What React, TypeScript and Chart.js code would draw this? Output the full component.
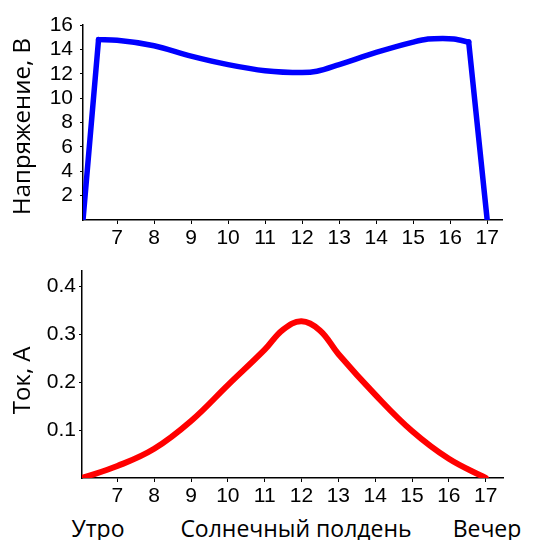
import React, { useEffect, useRef } from "react";
import { Chart, registerables } from "chart.js";

Chart.register(...registerables);

// Top chart: voltage (V) over hours
const voltageHours = [6.08, 6.5, 7, 8, 9, 10, 11, 12, 12.4, 13, 14, 15, 15.4, 15.8, 16.1, 16.5, 17];
const voltageValues = [0, 14.8, 14.75, 14.3, 13.45, 12.75, 12.25, 12.1, 12.2, 12.75, 13.75, 14.6, 14.85, 14.9, 14.85, 14.6, 0];
const voltageTicks = [2, 4, 6, 8, 10, 12, 14, 16];

// Bottom chart: current (A) over hours
const currentHours = [6.04, 7, 8, 9, 10, 11, 11.5, 12, 12.5, 13, 14, 15, 16, 17];
const currentValues = [0.0, 0.025, 0.061, 0.119, 0.194, 0.268, 0.31, 0.327, 0.308, 0.259, 0.174, 0.098, 0.04, 0.0];
const currentTicks = [0.1, 0.2, 0.3, 0.4];

const hourTicks = [7, 8, 9, 10, 11, 12, 13, 14, 15, 16, 17];

const voltageTitle = "Напряжение, В";
const currentTitle = "Ток, А";
const bottomLabels = ["Утро", "Солнечный полдень", "Вечер"];

const tickFont = { family: "'Liberation Sans', Arial, sans-serif", size: 21 };
const titleFontCss = "24px 'Open Sans', sans-serif";

const yTitlePlugin = {
  id: "yTitle",
  afterDraw(chart: any, _args: any, opts: any) {
    const { ctx, chartArea } = chart;
    ctx.save();
    ctx.font = titleFontCss;
    ctx.fillStyle = "#000";
    ctx.textAlign = "center";
    ctx.textBaseline = "middle";
    ctx.translate(opts.x, (chartArea.top + chartArea.bottom) / 2 + opts.dy);
    ctx.rotate(-Math.PI / 2);
    ctx.fillText(opts.text, 0, 0);
    ctx.restore();
  },
};

function makeScales(opts: {
  xMin: number; xMax: number; yMin: number; yMax: number;
  yTicks: number[]; yWidth: number; xHeight: number; yPad: number;
  yFmt: (v: number) => string;
}) {
  return {
    x: {
      type: "linear" as const,
      min: opts.xMin,
      max: opts.xMax,
      afterBuildTicks: (s: any) => { s.ticks = hourTicks.map((v) => ({ value: v })); },
      afterFit: (s: any) => { s.height = opts.xHeight; },
      border: { display: true, color: "#000", width: 1.5 },
      grid: { display: true, drawOnChartArea: false, drawTicks: true, tickLength: 4, color: "#000" },
      ticks: { color: "#000", font: tickFont, padding: 2, maxRotation: 0, autoSkip: false, callback: (v: any) => String(v) },
    },
    y: {
      type: "linear" as const,
      min: opts.yMin,
      max: opts.yMax,
      afterBuildTicks: (s: any) => { s.ticks = opts.yTicks.map((v) => ({ value: v })); },
      afterFit: (s: any) => { s.width = opts.yWidth; },
      border: { display: true, color: "#000", width: 1.5 },
      grid: { display: true, drawOnChartArea: false, drawTicks: true, tickLength: 3, color: "#000" },
      ticks: { color: "#000", font: tickFont, padding: opts.yPad, autoSkip: false, callback: (v: any) => opts.yFmt(Number(v)) },
    },
  };
}

export default function App() {
  const topRef = useRef<HTMLCanvasElement>(null);
  const botRef = useRef<HTMLCanvasElement>(null);

  useEffect(() => {
    const vPts = voltageHours.map((x, i) => ({ x, y: voltageValues[i] }));
    const n = vPts.length;
    const lineStyle = { borderColor: "#0000ff", borderWidth: 5.5, pointRadius: 0, fill: false, borderCapStyle: "round" as const, borderJoinStyle: "round" as const };

    const top = new Chart(topRef.current!, {
      type: "line",
      data: {
        datasets: [
          { ...lineStyle, data: vPts.slice(0, 2), tension: 0 },
          { ...lineStyle, data: vPts.slice(1, n - 1), cubicInterpolationMode: "monotone" },
          { ...lineStyle, data: vPts.slice(n - 2), tension: 0 },
        ],
      },
      plugins: [yTitlePlugin],
      options: {
        responsive: false,
        animation: false,
        devicePixelRatio: 1,
        layout: { padding: { left: 0, right: 38, top: 25, bottom: 0 } },
        plugins: {
          legend: { display: false },
          tooltip: { enabled: false },
          yTitle: { text: voltageTitle, x: 23, dy: 4 },
        } as any,
        scales: makeScales({
          xMin: 6.08, xMax: 17.4, yMin: 0, yMax: 16, yTicks: voltageTicks,
          yWidth: 83, xHeight: 35, yPad: 7,
          yFmt: (v) => String(v),
        }) as any,
      },
    });

    const bot = new Chart(botRef.current!, {
      type: "line",
      data: {
        datasets: [
          {
            data: currentHours.map((x, i) => ({ x, y: currentValues[i] })),
            borderColor: "#ff0000", borderWidth: 6, pointRadius: 0, fill: false,
            tension: 0.4, borderCapStyle: "round", borderJoinStyle: "round",
          },
        ],
      },
      plugins: [yTitlePlugin],
      options: {
        responsive: false,
        animation: false,
        devicePixelRatio: 1,
        layout: { padding: { left: 0, right: 37, top: 12, bottom: 0 } },
        plugins: {
          legend: { display: false },
          tooltip: { enabled: false },
          yTitle: { text: currentTitle, x: 23, dy: 6 },
        } as any,
        scales: makeScales({
          xMin: 6.04, xMax: 17.47, yMin: 0, yMax: 0.433, yTicks: currentTicks,
          yWidth: 82, xHeight: 32, yPad: 3,
          yFmt: (v) => v.toFixed(1),
        }) as any,
      },
    });

    return () => { top.destroy(); bot.destroy(); };
  }, []);

  const labelStyle: React.CSSProperties = {
    position: "absolute", top: 514, fontFamily: "'Open Sans', sans-serif", fontSize: 23, color: "#000",
    whiteSpace: "nowrap", lineHeight: "28px", transform: "translateX(-50%)",
  };

  return (
    <div style={{ position: "absolute", left: 0, top: 0, width: 540, height: 540, background: "#fff", overflow: "hidden" }}>
      <canvas ref={topRef} width={540} height={255} style={{ position: "absolute", left: 0, top: 0 }} />
      <canvas ref={botRef} width={540} height={255} style={{ position: "absolute", left: 0, top: 255 }} />
      <div style={{ ...labelStyle, left: 98 }}>{bottomLabels[0]}</div>
      <div style={{ ...labelStyle, left: 296 }}>{bottomLabels[1]}</div>
      <div style={{ ...labelStyle, left: 487 }}>{bottomLabels[2]}</div>
    </div>
  );
}
